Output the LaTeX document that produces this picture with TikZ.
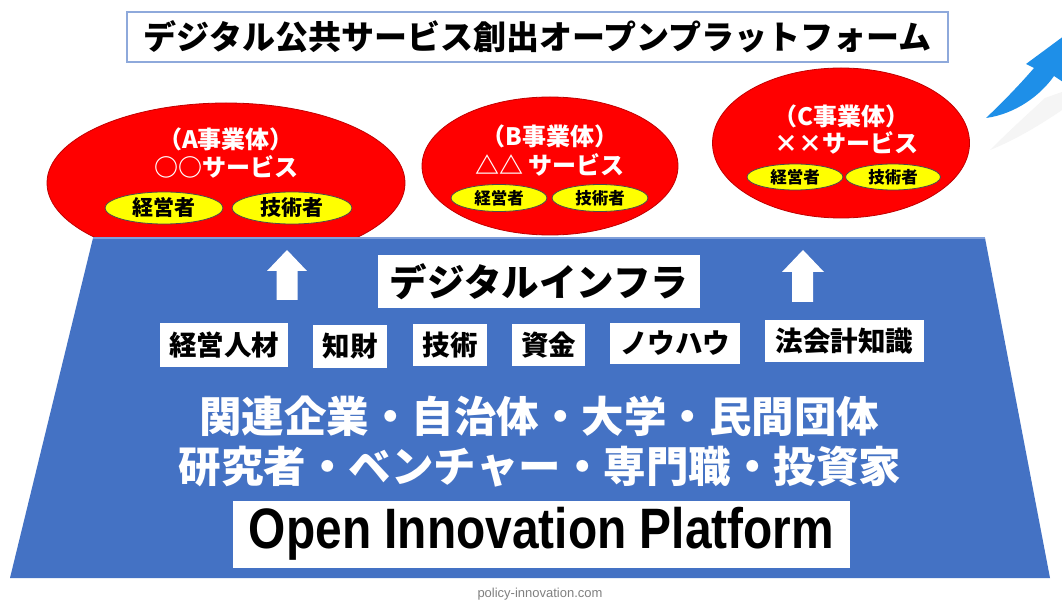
\documentclass[tikz,border=0pt]{standalone}
\usepackage{fontspec}
\usepackage{graphicx}
\setmainfont{Liberation Sans}
\newfontfamily\jp{Noto Sans CJK JP}
\usetikzlibrary{shapes.geometric}
\definecolor{oblue}{HTML}{4472C4}
\definecolor{oblueline}{HTML}{7F9FDA}
\definecolor{titleline}{HTML}{8EA9DB}
\definecolor{ored}{HTML}{FF0000}
\definecolor{oredline}{HTML}{C00000}
\definecolor{oyellow}{HTML}{FFFF00}
\definecolor{arrowblue}{HTML}{1E8FE8}
\newcommand{\fsz}[1]{\fontsize{#1}{#1}\selectfont}
\tikzset{
  redell/.style={ellipse, fill=ored, draw=oredline, line width=0.8pt, inner sep=0pt},
  yelell/.style={ellipse, fill=oyellow, draw=black!70, line width=0.8pt, inner sep=0pt, text=black, font=\jp\bfseries\fsz{#1}},
  whitetxt/.style={text=white, inner sep=0pt, font=\jp\bfseries\fsz{#1}},
  wbox/.style={fill=white, inner sep=0pt, text=black, font=\jp\bfseries\fsz{#1}},
  warrow/.style={fill=white, draw=none},
}
\begin{document}
\begin{tikzpicture}[x=1pt,y=-1pt]
\useasboundingbox (0,0) rectangle (1062,601);
\fill[white] (0,0) rectangle (1062,601);

% title
\node[wbox=33, draw=titleline, line width=1.2pt, minimum width=821pt, minimum height=50pt] (title) at (537.5,37) {デジタル公共サービス創出オープンプラットフォーム};

% top-right blue curved arrow (partly out of frame)
\fill[black!4] (990,150) .. controls (1010,130) and (1030,112) .. (1045,98) -- (1062,92) -- (1062,110) .. controls (1040,125) and (1015,140) .. (990,150) -- cycle;
\fill[arrowblue] (986,118) .. controls (1005,100) and (1022,82) .. (1034,68) -- (1026,64) -- (1072,30) -- (1066,84) -- (1054,76) .. controls (1040,96) and (1015,114) .. (986,118) -- cycle;

% red ellipses
\node[redell, minimum width=358pt, minimum height=160pt] (ea) at (226,183) {};
\node[redell, minimum width=256pt, minimum height=138pt] (eb) at (550,166) {};
\node[redell, minimum width=257pt, minimum height=150pt] (ec) at (841,143) {};

\node[whitetxt=24] (ta1) at (226,139) {（A事業体）};
\node[whitetxt=24] (ta2) at (226,167) {○○サービス};
\node[yelell=21, minimum width=118pt, minimum height=32pt] (ya1) at (164,208) {経営者};
\node[yelell=21, minimum width=120pt, minimum height=32pt] (ya2) at (292,208) {技術者};

\node[whitetxt=24] (tb1) at (550,136) {（B事業体）};
\node[whitetxt=24] (tb2) at (550,165) {△△ サービス};
\node[yelell=16.5, minimum width=96pt, minimum height=27pt] (yb1) at (499,198) {経営者};
\node[yelell=16.5, minimum width=96pt, minimum height=27pt] (yb2) at (600,198) {技術者};

\node[whitetxt=24] (tc1) at (841,116) {（C事業体）};
\node[whitetxt=24] (tc2) at (846,143) {××サービス};
\node[yelell=16.5, minimum width=96pt, minimum height=26pt] (yc1) at (795,177) {経営者};
\node[yelell=16.5, minimum width=95pt, minimum height=26pt] (yc2) at (893,177) {技術者};

% platform trapezoid
\coordinate (tl) at (93,238);
\coordinate (tr) at (985,238);
\coordinate (br) at (1050,578);
\coordinate (bl) at (10,578);
\fill[oblue] (tl) -- (tr) -- (br) -- (bl) -- cycle;
\draw[oblueline, line width=1.5pt] (tl) -- (tr);

% white up arrows
\fill[warrow] (287,250) -- (307,271) -- (297.5,271) -- (297.5,300) -- (276.5,300) -- (276.5,271) -- (267,271) -- cycle;
\fill[warrow] (803,250) -- (824,272) -- (813,272) -- (813,302) -- (792,302) -- (792,272) -- (782,272) -- cycle;

% digital infra
\node[wbox=37.5, minimum width=322pt, minimum height=53pt] (infra) at (539,281.5) {デジタルインフラ};

% resource boxes
\node[wbox=27.5, minimum width=128pt, minimum height=44pt] (r1) at (224,345) {経営人材};
\node[wbox=27.5, minimum width=74pt, minimum height=43pt] (r2) at (350,346.5) {知財};
\node[wbox=27.5, minimum width=74pt, minimum height=42pt] (r3) at (450,345) {技術};
\node[wbox=27.5, minimum width=73pt, minimum height=42pt] (r4) at (548.5,345) {資金};
\node[wbox=27.5, minimum width=130pt, minimum height=41pt] (r5) at (675,343.5) {ノウハウ};
\node[wbox=27.5, minimum width=159pt, minimum height=42pt] (r6) at (844.5,341) {法会計知識};

% members
\node[whitetxt=42.5] (m1) at (539,416) {関連企業・自治体・大学・民間団体};
\node[whitetxt=42.5] (m2) at (540,467) {研究者・ベンチャー・専門職・投資家};

% open innovation platform
\node[fill=white, inner sep=0pt, minimum width=617pt, minimum height=67pt, font=\bfseries\fsz{57}] (oip) at (541.5,534) {\scalebox{0.84}[1]{Open Innovation Platform}};

% source
\node[text=black!50, inner sep=0pt, font=\fsz{13}] (src) at (540,594) {policy-innovation.com};
\end{tikzpicture}
\end{document}
